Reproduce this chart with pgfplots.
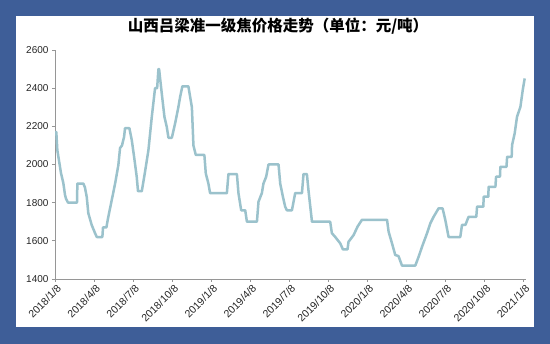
\documentclass[border=0pt]{standalone}
\usepackage{fontspec}
\setmainfont{Liberation Sans}
\newfontfamily\cjk{Noto Sans CJK SC}
\usepackage{pgfplots}
\pgfplotsset{compat=1.18}
\definecolor{bgblue}{RGB}{62,94,152}
\definecolor{linec}{RGB}{155,194,204}
\definecolor{axgray}{RGB}{150,150,150}
\begin{document}
\begin{tikzpicture}[x=1pt,y=1pt]
\fill[bgblue] (0,0) rectangle (550,344);
\fill[white] (16,17) rectangle (534,328);
\node[font=\cjk\bfseries\fontsize{15.5}{17}\selectfont, text=black] at (278,318) {山西吕梁准一级焦价格走势（单位：元/吨）};
\begin{axis}[
  at={(55pt,65pt)}, anchor=south west,
  scale only axis, width=471pt, height=229pt,
  xmin=0, xmax=36.2, ymin=1400, ymax=2600,
  axis lines=left,
  axis line style={-, draw=axgray, line width=0.8pt},
  xtick={0,3,...,36},
  xticklabels={2018/1/8,2018/4/8,2018/7/8,2018/10/8,2019/1/8,2019/4/8,2019/7/8,2019/10/8,2020/1/8,2020/4/8,2020/7/8,2020/10/8,2021/1/8},
  ytick={1400,1600,...,2600},
  tick align=outside,
  major tick length=3pt,
  tick style={draw=axgray, line width=0.8pt},
  y tick label style={font=\fontsize{10}{11}\selectfont, text=black!85},
  x tick label style={font=\fontsize{10.5}{11}\selectfont, text=black!85, rotate=45, anchor=north east, xshift=3pt, yshift=1pt},
  /pgf/number format/assume math mode=true,
  yticklabel style={/pgf/number format/1000 sep={}},
  scaled y ticks=false,
  clip=false,
]
\addplot[linec, line width=2.5pt, line join=round] coordinates {
(0,2170) (0.1,2170) (0.18,2075) (0.46,1955) (0.64,1903) (0.77,1840) (0.85,1820) (1.0,1800) (1.69,1800) (1.72,1900) (2.18,1900) (2.3,1880) (2.44,1830) (2.56,1745) (2.82,1683) (3.08,1640) (3.21,1620) (3.64,1620) (3.69,1670) (3.95,1670) (4.08,1720) (4.36,1813) (4.62,1900) (4.87,1997) (5.0,2086) (5.15,2100) (5.31,2145) (5.38,2190) (5.72,2190) (5.9,2128) (6.08,2040) (6.28,1936) (6.38,1860) (6.67,1860) (6.92,1962) (7.18,2075) (7.44,2250) (7.69,2400) (7.85,2400) (7.95,2500) (8.0,2500) (8.21,2370) (8.41,2250) (8.59,2197) (8.72,2140) (8.98,2140) (9.23,2215) (9.48,2300) (9.62,2355) (9.79,2410) (10.25,2410) (10.52,2300) (10.64,2100) (10.82,2050) (11.48,2050) (11.59,1953) (11.79,1900) (11.92,1850) (13.21,1850) (13.33,1950) (13.98,1950) (14.1,1850) (14.31,1760) (14.62,1760) (14.75,1700) (15.52,1700) (15.64,1805) (15.9,1850) (16.02,1900) (16.23,1936) (16.41,2000) (17.18,2000) (17.31,1900) (17.52,1830) (17.69,1779) (17.82,1760) (18.21,1760) (18.46,1850) (18.98,1850) (19.1,1950) (19.36,1950) (19.48,1866) (19.75,1700) (21.15,1700) (21.28,1640) (21.54,1620) (21.92,1587) (22.13,1555) (22.48,1555) (22.56,1595) (22.95,1630) (23.25,1674) (23.59,1710) (25.52,1710) (25.64,1648) (25.9,1587) (26.15,1526) (26.4,1520) (26.67,1470) (27.69,1470) (27.95,1517) (28.21,1569) (28.59,1639) (28.85,1692) (29.1,1726) (29.48,1770) (29.79,1770) (30.0,1709) (30.25,1620) (31.15,1620) (31.28,1683) (31.54,1683) (31.79,1726) (32.38,1726) (32.44,1779) (32.92,1779) (32.95,1831) (33.3,1831) (33.33,1883) (33.85,1883) (33.9,1936) (34.2,1936) (34.23,1988) (34.7,1988) (34.75,2040) (35.1,2040) (35.13,2102) (35.33,2163) (35.51,2250) (35.77,2302) (35.95,2390) (36.1,2451)
};
\end{axis}
\end{tikzpicture}
\end{document}
